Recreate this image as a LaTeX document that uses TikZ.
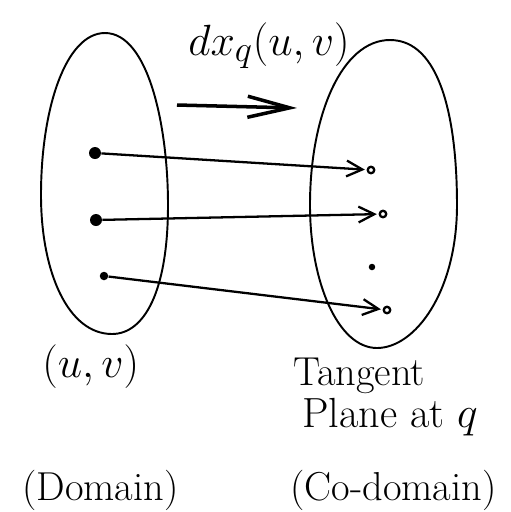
\documentclass[tikz,border=0pt]{standalone}
\usetikzlibrary{arrows.meta}
\begin{document}
\begin{tikzpicture}[x=0.02cm,y=-0.02cm,
  outline/.style={line width=1.1pt},
  bigdot/.style={circle,fill=black,inner sep=0pt,minimum size=0.24cm},
  smalldot/.style={circle,fill=black,inner sep=0pt,minimum size=0.17cm},
  tipdot/.style={circle,fill=black,inner sep=0pt,minimum size=0.13cm},
  target/.style={circle,draw=black,line width=1.3pt,inner sep=0pt,minimum size=0.13cm},
  conn/.style={line width=1.3pt,-{Straight Barb[length=9pt,width=9pt,line width=1.3pt]},shorten >=1pt},
  mainarrow/.style={line width=2pt,-{Straight Barb[length=24pt,width=12pt,line width=2pt]}},
  lbl/.style={inner sep=0pt,anchor=base west,font=\fontsize{23}{27}\selectfont}]
\useasboundingbox (0,0) rectangle (511,512);
% domain
\draw[outline] (105,33) .. controls (148,33) and (168,125) .. (168,205)
  .. controls (168,292) and (144,334) .. (112,334)
  .. controls (68,334) and (41,272) .. (41,195)
  .. controls (41,108) and (66,33) .. (105,33) -- cycle;
% co-domain
\draw[outline] (390,40) .. controls (440,40) and (457,118) .. (457,205)
  .. controls (457,292) and (415,348) .. (377,348)
  .. controls (338,348) and (310,282) .. (310,205)
  .. controls (310,115) and (342,40) .. (390,40) -- cycle;
% points
\node[bigdot] (a1) at (95,153) {};
\node[bigdot] (a2) at (96,220) {};
\node[smalldot] (a3) at (104,276) {};
\node[target] (b1) at (371,170) {};
\node[target] (b2) at (383,214) {};
\node[tipdot] (b0) at (372,267) {};
\node[target] (b3) at (387,310) {};
\draw[conn] (a1) -- (b1);
\draw[conn] (a2) -- (b2);
\draw[conn] (a3) -- (b3);
% main arrow
\coordinate (s) at (177,105);
\coordinate (e) at (297,108);
\draw[mainarrow] (s) -- (e);
\node[inner sep=0pt,anchor=base west,font=\fontsize{28}{32}\selectfont] (lab) at (188,55) {$dx_q(u,v)$};
% labels
\node[lbl,font=\fontsize{26}{30}\selectfont] (uv) at (42,377) {$(u,v)$};
\node[lbl] (tg) at (293,385) {Tangent};
\node[lbl,font=\fontsize{24}{28}\selectfont] (pl) at (302,427) {Plane at $q$};
\node[lbl] (dom) at (22,500) {(Domain)};
\node[lbl] (cod) at (290,500) {(Co-domain)};
\end{tikzpicture}
\end{document}
